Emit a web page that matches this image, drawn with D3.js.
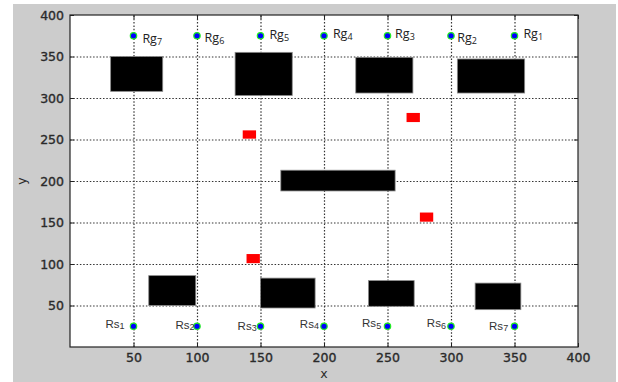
<!DOCTYPE html>
<html>
<head>
<meta charset="utf-8">
<script src="https://cdn.jsdelivr.net/npm/d3@7"></script>
<style>
  html, body { margin: 0; padding: 0; background: #ffffff; }
  svg { display: block; }
</style>
</head>
<body>
<svg id="chart" width="618" height="382"></svg>
<script>
// Tick values on both axes
const xTicks = [50, 100, 150, 200, 250, 300, 350, 400];
const yTicks = [50, 100, 150, 200, 250, 300, 350, 400];

// Goal robots Rg1..Rg7 (top row)
const goalNames = ["1", "2", "3", "4", "5", "6", "7"];
const goalX = [350, 300, 250, 200, 150, 100, 50];
const goalY = [375, 375, 375, 375, 375, 375, 375];
const goalLabelX = [357, 305, 256, 207, 157, 106, 57];
const goalLabelY = [372, 367, 372, 372, 371, 367, 366];

// Start robots Rs1..Rs7 (bottom row)
const startNames = ["1", "2", "3", "4", "5", "6", "7"];
const startX = [50, 100, 150, 200, 250, 300, 350];
const startY = [25, 25, 25, 25, 25, 25, 25];
const startLabelX = [43, 98, 147, 196, 245, 296, 345];
const startLabelY = [23, 22, 20.5, 23, 24, 24, 20.5];

// Static obstacles: [xMin, yMin, xMax, yMax]
const staticObstacles = [
  [32, 308, 73, 350],
  [130, 303, 175, 355],
  [225, 306, 270, 349],
  [305, 306, 358, 347],
  [166, 188, 256, 213],
  [62, 50, 99, 86],
  [150, 47, 193, 83],
  [235, 49, 271, 80],
  [319, 45, 355, 77]
];

// Dynamic obstacles: [xMin, yMin, xMax, yMax]
const dynamicObstacles = [
  [136, 251, 146.5, 261],
  [265, 271, 275.5, 282],
  [275.5, 151, 286, 162],
  [139, 101, 149.5, 112]
];

const svg = d3.select("#chart");
const W = 618, H = 382;
const plot = { left: 70, top: 15, width: 508, height: 332 };

// Figure background
svg.append("rect").attr("x", 13).attr("y", 4).attr("width", 603).attr("height", H - 4)
  .attr("fill", "#cccccc");

const x = d3.scaleLinear().domain([0, 400]).range([plot.left, plot.left + plot.width]);
const y = d3.scaleLinear().domain([0, 400]).range([plot.top + plot.height, plot.top]);

const g = svg.append("g");

// Axes area
g.append("rect").attr("x", plot.left).attr("y", plot.top)
  .attr("width", plot.width).attr("height", plot.height).attr("fill", "#ffffff");

// Dotted grid
const gridColor = "#333333";
g.append("g").selectAll("line").data(xTicks.filter(t => t < 400)).join("line")
  .attr("x1", d => x(d) + 0.5).attr("x2", d => x(d) + 0.5)
  .attr("y1", y(0)).attr("y2", y(400))
  .attr("stroke", gridColor).attr("stroke-width", 1.2).attr("stroke-dasharray", "1.5,1.8");
g.append("g").selectAll("line").data(yTicks.filter(t => t < 400)).join("line")
  .attr("y1", d => y(d) + 0.5).attr("y2", d => y(d) + 0.5)
  .attr("x1", x(0)).attr("x2", x(400))
  .attr("stroke", gridColor).attr("stroke-width", 1.2).attr("stroke-dasharray", "1.5,1.8");

// Static obstacles
g.append("g").selectAll("rect").data(staticObstacles).join("rect")
  .attr("x", d => x(d[0])).attr("y", d => y(d[3]))
  .attr("width", d => x(d[2]) - x(d[0])).attr("height", d => y(d[1]) - y(d[3]))
  .attr("fill", "#000000").attr("stroke", "#8a8a8a").attr("stroke-width", 0.8);

// Dynamic obstacles
g.append("g").selectAll("rect").data(dynamicObstacles).join("rect")
  .attr("x", d => x(d[0])).attr("y", d => y(d[3]))
  .attr("width", d => x(d[2]) - x(d[0])).attr("height", d => y(d[1]) - y(d[3]))
  .attr("fill", "#ff0000");

// Axes with inward ticks on all four sides
const tickLen = 4;
const axisStyle = sel => {
  sel.select(".domain").remove();
  sel.selectAll(".tick line").attr("stroke", "#222");
  sel.selectAll(".tick text").attr("fill", "#2a2a2a").attr("stroke", "#2a2a2a").attr("stroke-width", 0.35)
    .style("font-family", "'DejaVu Sans', sans-serif").style("font-size", "12.5px");
};
g.append("g").attr("transform", `translate(0,${y(0)})`)
  .call(d3.axisBottom(x).tickValues(xTicks).tickSize(-tickLen).tickPadding(6))
  .call(axisStyle);
g.append("g").attr("transform", `translate(0,${y(400)})`)
  .call(d3.axisTop(x).tickValues(xTicks).tickSize(-tickLen).tickFormat(""))
  .call(axisStyle);
g.append("g").attr("transform", `translate(${x(0)},0)`)
  .call(d3.axisLeft(y).tickValues(yTicks).tickSize(-tickLen).tickPadding(6))
  .call(axisStyle);
g.append("g").attr("transform", `translate(${x(400)},0)`)
  .call(d3.axisRight(y).tickValues(yTicks).tickSize(-tickLen).tickFormat(""))
  .call(axisStyle);

// Box
g.append("rect").attr("x", plot.left).attr("y", plot.top)
  .attr("width", plot.width).attr("height", plot.height)
  .attr("fill", "none").attr("stroke", "#222").attr("stroke-width", 1.2);

// Axis titles
svg.append("text").attr("x", x(200)).attr("y", 378).attr("text-anchor", "middle")
  .attr("fill", "#2a2a2a").style("font-family", "'DejaVu Sans', sans-serif").style("font-size", "12.5px")
  .text("x");
svg.append("text").attr("transform", `translate(26,${y(200)}) rotate(-90)`)
  .attr("text-anchor", "middle").attr("fill", "#2a2a2a")
  .style("font-family", "'DejaVu Sans', sans-serif").style("font-size", "12.5px")
  .text("y");

// Robot markers
const markers = (xs, ys) => g.append("g").selectAll("circle").data(xs).join("circle")
  .attr("cx", d => x(d)).attr("cy", (d, i) => y(ys[i])).attr("r", 3.2)
  .attr("fill", "#0000ff").attr("stroke", "#22ee22").attr("stroke-width", 1.2);
markers(goalX, goalY);
markers(startX, startY);

// Goal labels
const goalText = g.append("g").selectAll("text").data(goalNames).join("text")
  .attr("x", (d, i) => x(goalLabelX[i])).attr("y", (d, i) => y(goalLabelY[i]))
  .attr("fill", "#222").style("font-family", "'Open Sans', sans-serif").style("font-size", "12.5px");
goalText.append("tspan").text("Rg");
goalText.append("tspan").attr("dy", 2).style("font-size", "9px").text(d => d);

// Start labels
const startText = g.append("g").selectAll("text").data(startNames).join("text")
  .attr("x", (d, i) => x(startLabelX[i])).attr("y", (d, i) => y(startLabelY[i]))
  .attr("text-anchor", "end")
  .attr("fill", "#333").style("font-family", "'Liberation Sans', Arial, sans-serif").style("font-size", "11.5px");
startText.append("tspan").text("Rs");
startText.append("tspan").attr("dy", 1.5).style("font-size", "9px").text(d => d);
</script>
</body>
</html>
